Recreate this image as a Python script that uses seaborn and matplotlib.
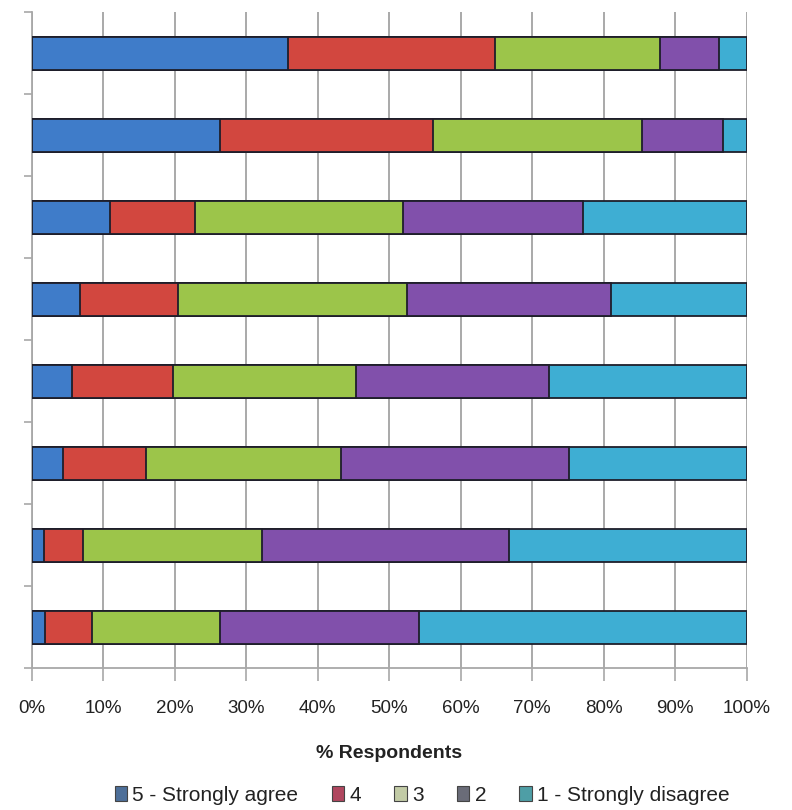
import matplotlib
matplotlib.use("Agg")
import matplotlib.pyplot as plt
import seaborn as sns
import pandas as pd
import numpy as np
from matplotlib.patches import Patch

# Survey items (top to bottom) and share of respondents per rating, in %
items = ["Q1", "Q2", "Q3", "Q4", "Q5", "Q6", "Q7", "Q8"]
agree5 = [35.8, 26.3, 11.0, 6.7, 5.7, 4.4, 1.7, 1.8]
rate4 = [29.0, 29.8, 11.9, 13.8, 14.0, 11.6, 5.5, 6.7]
rate3 = [23.0, 29.3, 29.0, 32.0, 25.6, 27.2, 25.0, 17.8]
rate2 = [8.3, 11.2, 25.2, 28.5, 27.0, 32.0, 34.5, 27.8]
disagree1 = [3.9, 3.4, 22.9, 19.0, 27.7, 24.8, 33.3, 45.9]

levels = ["5 - Strongly agree", "4", "3", "2", "1 - Strongly disagree"]
colors = ["#3f7cc9", "#d2473f", "#9cc54a", "#8150ab", "#3eaed3"]
legend_colors = ["#4d6f99", "#b0475f", "#c2cba6", "#6a6c78", "#4e9ea6"]
x_ticks = [0, 10, 20, 30, 40, 50, 60, 70, 80, 90, 100]
x_label = "% Respondents"

df = pd.DataFrame({"item": items,
                   levels[0]: agree5, levels[1]: rate4, levels[2]: rate3,
                   levels[3]: rate2, levels[4]: disagree1})
cum = df[levels].cumsum(axis=1)
cum["item"] = df["item"]

sns.set_theme(style="white")
plt.rcParams["font.family"] = ["Liberation Sans Narrow", "Liberation Sans", "DejaVu Sans"]

fig = plt.figure(figsize=(7.92, 8.10), dpi=100)
ax = fig.add_axes([0.040, 0.175, 0.903, 0.810])

# Stacked bars: draw cumulative totals from the right-most segment inward
for lvl, col in zip(reversed(levels), reversed(colors)):
    sns.barplot(data=cum, x=lvl, y="item", order=items, orient="h",
                color=col, width=0.4, edgecolor="#1e1e2a", linewidth=1.3,
                saturation=1, ax=ax, zorder=3)

ax.set_xlim(0, 100)
ax.set_ylim(len(items) - 0.5, -0.5)
ax.set_xticks(x_ticks)
ax.set_xticklabels([f"{t}%" for t in x_ticks], fontsize=13.5, color="#222222")
ax.set_yticks(np.arange(len(items) + 1) - 0.5)
ax.set_yticklabels([])
ax.set_ylabel("")
ax.set_xlabel(x_label, fontsize=14, fontweight="bold", color="#222222", labelpad=20)

ax.grid(axis="x", color="#a2a2a2", linewidth=1.3, zorder=0)
ax.grid(axis="y", visible=False)
for side in ["top", "right"]:
    ax.spines[side].set_visible(False)
ax.spines["left"].set_color("#a8a8a8")
ax.spines["bottom"].set_color("#a8a8a8")
ax.spines["left"].set_linewidth(1.3)
ax.spines["bottom"].set_linewidth(1.3)
ax.tick_params(axis="x", direction="out", length=9, width=1.2, color="#a8a8a8", pad=14, bottom=True)
ax.tick_params(axis="y", direction="out", length=6, width=1.2, color="#a8a8a8", left=True)

handles = [Patch(facecolor=c, edgecolor="#444444", linewidth=0.8) for c in legend_colors]
fig.legend(handles, levels, loc="center", bbox_to_anchor=(0.533, 0.018), ncol=5,
           frameon=False, fontsize=15, handlelength=0.6, handleheight=0.7,
           handletextpad=0.25, columnspacing=1.6, labelcolor="#222222")

fig.savefig("out.png", dpi=100, facecolor="white")
